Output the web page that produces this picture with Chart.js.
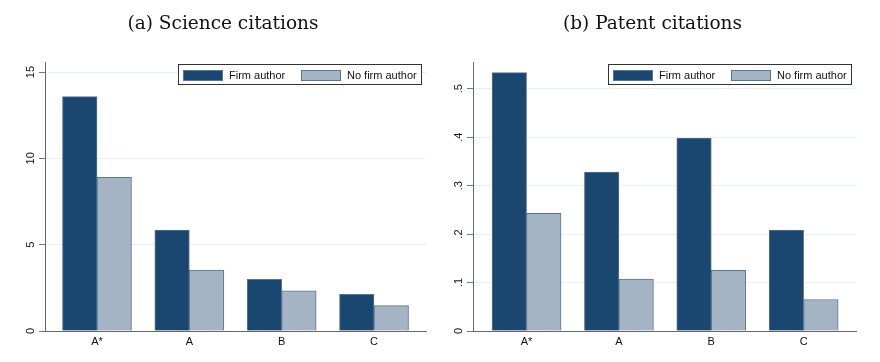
<!DOCTYPE html>
<html><head><meta charset="utf-8">
<script src="https://cdn.jsdelivr.net/npm/chart.js@4.4.1/dist/chart.umd.min.js"></script>
<style>html,body{margin:0;padding:0;background:#fff;width:880px;height:362px;overflow:hidden}
canvas{position:absolute;top:0}</style></head>
<body>
<canvas id="c1" width="440" height="362" style="left:0"></canvas>
<canvas id="c2" width="440" height="362" style="left:440px"></canvas>
<script>
const categories = ['A*', 'A', 'B', 'C'];
const seriesNames = ['Firm author', 'No firm author'];
const scienceFirm = [13.57, 5.85, 2.99, 2.12];
const scienceNoFirm = [8.9, 3.53, 2.32, 1.47];
const patentFirm = [0.533, 0.328, 0.398, 0.208];
const patentNoFirm = [0.243, 0.107, 0.125, 0.065];
const scienceTicks = ['0', '5', '10', '15'];
const patentTicks = ['0', '.1', '.2', '.3', '.4', '.5'];
const titles = ['(a) Science citations', '(b) Patent citations'];

const FIRM = '#1a476f', NOFIRM = '#a5b4c4', EDGE = '#5a7592';
const SANS = '"Liberation Sans", Arial, sans-serif';

const decor = {
  id: 'decor',
  afterDraw(chart, args, o) {
    const ctx = chart.ctx, ca = chart.chartArea, ys = chart.scales.y;
    ctx.save();
    ctx.fillStyle = '#111';
    ctx.textAlign = 'center';
    ctx.textBaseline = 'middle';
    ctx.font = o.titleFont;
    ctx.fillText(o.title, o.titleX, o.titleY);
    ctx.font = '11px ' + SANS;
    o.yTicks.forEach(t => {
      const py = ys.getPixelForValue(parseFloat(t));
      ctx.save();
      ctx.translate(ca.left - 14, py);
      ctx.rotate(-Math.PI / 2);
      ctx.fillText(t, 0, 0);
      ctx.restore();
    });
    // legend
    const bw = 244, bh = 21;
    const bx = ca.right - 4 - bw, by = ca.top + 2;
    ctx.fillStyle = '#fff';
    ctx.fillRect(bx, by, bw, bh);
    ctx.strokeStyle = '#333';
    ctx.lineWidth = 1;
    ctx.strokeRect(bx + 0.5, by + 0.5, bw - 1, bh - 1);
    const ds = chart.data.datasets;
    const offs = [5, 123];
    ds.forEach((d, i) => {
      const sx = bx + offs[i];
      ctx.fillStyle = d.backgroundColor;
      ctx.fillRect(sx, by + 6, 40, 11);
      ctx.strokeStyle = EDGE;
      ctx.strokeRect(sx + 0.5, by + 6.5, 39, 10);
      ctx.fillStyle = '#111';
      ctx.textAlign = 'left';
      ctx.fillText(d.label, sx + 46, by + 11.5);
    });
    ctx.restore();
  }
};

function makeChart(id, firm, nofirm, yTicks, yMax, step, xMin, xMax, padRight, yWidth, title, titleX) {
  const toPts = arr => arr.map((v, i) => ({x: i, y: v}));
  new Chart(document.getElementById(id), {
    type: 'bar',
    data: {
      datasets: [
        {label: seriesNames[0], data: toPts(firm), backgroundColor: FIRM, borderColor: EDGE, borderWidth: 1, barThickness: 34.5},
        {label: seriesNames[1], data: toPts(nofirm), backgroundColor: NOFIRM, borderColor: EDGE, borderWidth: 1, barThickness: 34.5}
      ]
    },
    options: {
      responsive: false,
      animation: false,
      devicePixelRatio: 1,
      layout: {padding: {top: 62, left: 0, right: padRight, bottom: 0}},
      plugins: {
        legend: {display: false},
        tooltip: {enabled: false},
        title: {display: false},
        decor: {title: title, titleX: titleX, titleY: 24, titleFont: '18.5px "DejaVu Serif", serif', yTicks: yTicks}
      },
      scales: {
        x: {
          type: 'linear', min: xMin, max: xMax, offset: false,
          grid: {display: false, drawTicks: false, offset: false},
          border: {display: true, color: '#666', width: 1},
          ticks: {stepSize: 1, includeBounds: false, autoSkip: false, padding: 4, color: '#111',
            font: {family: SANS, size: 11},
            callback: v => Number.isInteger(v) ? categories[v] : ''},
          afterFit: s => { s.height = 31; }
        },
        y: {
          min: 0, max: yMax,
          grid: {color: '#eaf1f3', lineWidth: 1, tickColor: '#777', tickLength: 6, drawTicks: true},
          border: {display: true, color: '#666', width: 1},
          ticks: {display: false, stepSize: step, includeBounds: false},
          afterFit: s => { s.width = yWidth; }
        }
      }
    },
    plugins: [decor]
  });
}

makeChart('c1', scienceFirm, scienceNoFirm, scienceTicks, 15.58, 5, -0.563, 3.563, 14, 45, titles[0], 223);
makeChart('c2', patentFirm, patentNoFirm, patentTicks, 0.555, 0.1, -0.58, 3.567, 24, 33, titles[1], 212.5);
</script>
</body></html>
